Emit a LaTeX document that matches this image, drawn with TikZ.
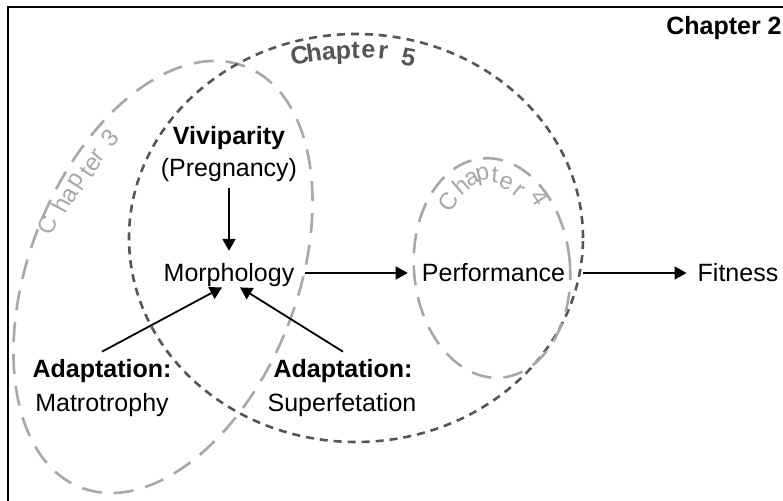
\documentclass[tikz,border=0pt]{standalone}
\usepackage{fontspec}
\setmainfont{Liberation Sans}
\usetikzlibrary{arrows.meta}
\definecolor{darkdash}{HTML}{555555}
\definecolor{lightdash}{HTML}{A8A8A8}
\begin{document}
\begin{tikzpicture}[x=1pt,y=1pt,
  txt/.style={inner sep=0pt, font=\fontsize{25}{30}\selectfont},
  btxt/.style={inner sep=0pt, font=\fontsize{25}{30}\selectfont\bfseries},
  arr/.style={line width=1.8pt, -{Triangle[length=12pt,width=13pt]}},
  chfive/.style={draw=darkdash, line width=2.6pt, dash pattern=on 8pt off 6pt},
  chlight/.style={draw=lightdash, line width=2.6pt, dash pattern=on 20pt off 12pt},
  fivechar/.style={inner sep=0pt, anchor=center, text=darkdash, font=\fontsize{25}{25}\selectfont\bfseries},
  lightchar/.style={inner sep=0pt, anchor=center, text=lightdash, font=\fontsize{24}{24}\selectfont}]
\clip (0,0) rectangle (783,500);
\fill[white] (0,0) rectangle (783,500);
% frame
\draw[line width=2.6pt] (8,493) rectangle (820,-30);
% chapter ellipses
\draw[chlight, rotate around={-21.4:(163,223)}] (163,223) ellipse [x radius=134, y radius=226];
\draw[chfive] (356,262) ellipse [x radius=227, y radius=204];
\draw[chlight, rotate around={5:(492,232)}] (492,232) ellipse [x radius=78, y radius=110];
% chapter labels, letter by letter along the ellipses (x, y from top, rotation)
\foreach \ch/\cx/\cy/\rot [count=\i] in
  {C/299.5/55/11, h/314/52/8, a/329/53.5/5.5, p/343.5/55/2.5,
   t/355.5/50/0, e/368.5/51.5/-3, r/383/52.5/-5.5, 5/408.5/57/-10.5}
  \node[fivechar, rotate=\rot] (cfive\i) at (\cx, 500-\cy) {\ch};
\foreach \ch/\cx/\cy/\rot [count=\i] in
  {C/48/225/65.7, h/60.5/205/62.2, a/70/196/60, p/78/182/57.4,
   t/87/172/54.9, e/93/164/53, r/98/155/51.2, 3/110/138/47}
  \node[lightchar, rotate=\rot] (cthree\i) at (\cx, 500-\cy) {\ch};
\foreach \ch/\cx/\cy/\rot [count=\i] in
  {C/448/202/56.6, h/461/186/40.7, a/472/179/27.1, p/483/176/12.6,
   t/495/175/-4.2, e/506/183/-20.5, r/519/191/-38.6, 4/540/198/-57.3}
  \node[lightchar, rotate=\rot] (cfour\i) at (\cx, 500-\cy) {\ch};
% nodes
\node[btxt, anchor=base] (chap2) at (724,465) {Chapter 2};
\node[btxt, anchor=base] (viv) at (229,355) {Viviparity};
\node[txt, anchor=base] (preg) at (229,323) {(Pregnancy)};
\node[txt, anchor=base] (morph) at (229,218) {Morphology};
\node[txt, anchor=base] (perf) at (493.5,218) {Performance};
\node[txt, anchor=base] (fit) at (738,218) {Fitness};
\node[btxt, anchor=base] (adl) at (102,122) {Adaptation:};
\node[txt, anchor=base] (matro) at (102,88) {Matrotrophy};
\node[btxt, anchor=base] (adr) at (343,122) {Adaptation:};
\node[txt, anchor=base] (superf) at (342,88) {Superfetation};
% connectors
\draw[arr, shorten <=5.5pt, shorten >=12.8pt] (preg.south) -- (morph.north);
\draw[arr] ([xshift=10.5pt,yshift=9pt]morph.base east) -- ([xshift=-14pt,yshift=9pt]perf.base west);
\draw[arr] ([xshift=18pt,yshift=9pt]perf.base east) -- ([xshift=-11pt,yshift=9pt]fit.base west);
\draw[arr] ([yshift=8pt]adl.north) -- ([xshift=-7pt]morph.south);
\draw[arr] ([yshift=8pt]adr.north) -- ([xshift=11pt]morph.south);
\end{tikzpicture}
\end{document}
